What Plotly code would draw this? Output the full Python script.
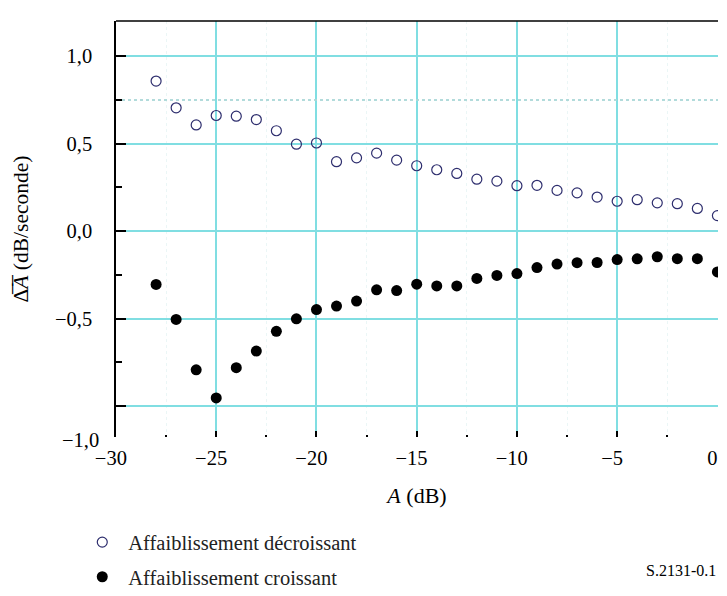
import plotly.graph_objects as go

# Data
attenuation_db = list(range(-28, 1))
decroissant = [0.858, 0.705, 0.607, 0.661, 0.657, 0.638, 0.574, 0.497, 0.504,
               0.397, 0.419, 0.446, 0.406, 0.374, 0.351, 0.330, 0.297, 0.286,
               0.260, 0.262, 0.233, 0.219, 0.195, 0.171, 0.180, 0.162, 0.157,
               0.130, 0.089]
croissant = [-0.304, -0.504, -0.792, -0.953, -0.780, -0.685, -0.572, -0.501,
             -0.448, -0.428, -0.399, -0.335, -0.339, -0.303, -0.313, -0.313,
             -0.270, -0.253, -0.242, -0.208, -0.188, -0.180, -0.179, -0.162,
             -0.158, -0.146, -0.157, -0.157, -0.233]

x_ticks = [-30, -25, -20, -15, -10, -5, 0]
# trailing en-space keeps the digits (not the minus sign) centred on each tick
x_ticktext = ["\u221230\u2002", "\u221225\u2002", "\u221220\u2002",
              "\u221215\u2002", "\u221210\u2002", "\u22125\u2002", "0\u2002"]
x_grid = [-25, -20, -15, -10, -5]
x_minor = [-27.5, -22.5, -17.5, -12.5, -7.5, -2.5]
y_ticks = [-1.0, -0.5, 0.0, 0.5, 1.0]
y_ticktext = ["", "\u22120,5", "0,0", "0,5", "1,0"]
y_minor = [-0.75, -0.25, 0.25, 0.75]
y_dotted = [0.75]
x_range = [-30, 0.03]
y_range = [-1.176, 1.201]

FONT = "Liberation Serif"
GRID = "rgb(128,222,226)"

fig = go.Figure()

fig.add_trace(go.Scatter(
    x=attenuation_db, y=decroissant, mode="markers",
    name="Affaiblissement décroissant", legendgroup="a",
    marker=dict(symbol="circle-open", size=10, color="#2e2e6e",
                line=dict(width=1.2, color="#2e2e6e")),
))
fig.add_trace(go.Scatter(
    x=attenuation_db, y=croissant, mode="markers",
    name="Affaiblissement croissant", legendgroup="b",
    marker=dict(symbol="circle", size=11, color="black"),
))
# invisible trace to activate the overlay axes that carry extra grid lines
fig.add_trace(go.Scatter(x=[x_range[0]], y=[0], xaxis="x2", yaxis="y2",
                         mode="markers", marker=dict(opacity=0),
                         showlegend=False, hoverinfo="skip"))

fig.update_layout(
    width=727, height=596,
    margin=dict(l=108, r=7, t=13, b=147),
    paper_bgcolor="white", plot_bgcolor="white",
    font=dict(family=FONT, size=20, color="black"),
    showlegend=True,
    legend=dict(x=-0.066, xanchor="left", y=-0.205, yanchor="top",
                font=dict(family=FONT, size=20.5, color="#222"),
                itemwidth=42, tracegroupgap=5, traceorder="grouped",
                bgcolor="rgba(0,0,0,0)"),
    xaxis=dict(
        range=x_range, tickmode="array", tickvals=x_ticks, ticktext=x_ticktext,
        showgrid=False, zeroline=False, showline=False,
        ticks="inside", ticklen=6, tickwidth=2, tickcolor="black",
        ticklabelstandoff=6, ticklabeloverflow="allow",
        tickfont=dict(family=FONT, size=20.5),
        minor=dict(tickmode="array", tickvals=x_minor, ticks="inside",
                   ticklen=2, tickwidth=2, tickcolor="black",
                   showgrid=True, gridcolor="rgba(215,238,238,0.5)",
                   griddash="dot", gridwidth=1),
        title=dict(text="<i>A</i> (dB)", font=dict(family=FONT, size=22),
                   standoff=20),
    ),
    yaxis=dict(
        range=y_range, tickmode="array", tickvals=y_ticks, ticktext=y_ticktext,
        showgrid=True, gridcolor=GRID, gridwidth=1.5, zeroline=False,
        showline=True, linecolor="black", linewidth=1.5,
        ticks="inside", ticklen=10, tickwidth=1.5, tickcolor="black",
        ticklabelstandoff=18,
        tickfont=dict(family=FONT, size=20.5),
        minor=dict(tickmode="array", tickvals=y_minor, ticks="inside",
                   ticklen=6, tickwidth=1.5, tickcolor="black", showgrid=False),
        title=dict(text="\u0394\u0305<i>A\u0305</i> (dB/seconde)",
                   font=dict(family=FONT, size=21.5), standoff=20),
    ),
    xaxis2=dict(range=x_range, overlaying="x", anchor="y2", tickmode="array",
                tickvals=x_grid, showgrid=True, gridcolor=GRID, gridwidth=1.5,
                showticklabels=False, ticks="", showline=False, zeroline=False),
    yaxis2=dict(range=y_range, overlaying="y", anchor="x2", tickmode="array",
                tickvals=y_dotted, showgrid=True,
                gridcolor="rgba(170,215,215,0.9)", griddash="dot", gridwidth=1.5,
                showticklabels=False, ticks="", showline=False, zeroline=False),
    shapes=[dict(type="line", xref="paper", yref="paper", x0=0, x1=1, y0=1, y1=1,
                 line=dict(color="black", width=1.5))],
    annotations=[
        dict(text="\u22121,0", xref="paper", yref="y", x=0, y=y_range[0],
             xanchor="right", yanchor="middle", xshift=-15, yshift=-3,
             showarrow=False, font=dict(family=FONT, size=20.5)),
        dict(text="S.2131-0.1", xref="paper", yref="paper", x=0.877, y=-0.322,
             xanchor="left", yanchor="middle", showarrow=False,
             font=dict(family=FONT, size=16)),
    ],
)

fig.write_html("out.html")
